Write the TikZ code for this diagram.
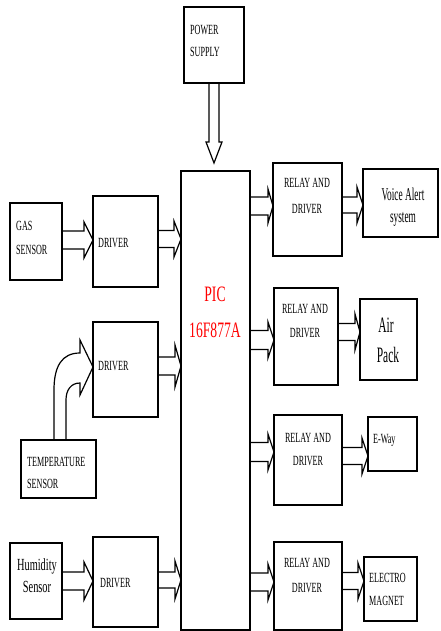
\documentclass[tikz,border=0pt]{standalone}
\usepackage{fontspec}
\setmainfont{Liberation Serif}
\newfontfamily\cnd[FakeStretch=0.58]{Liberation Serif}
\newfontfamily\cndm[FakeStretch=0.61]{Liberation Serif}
\newfontfamily\cndb[FakeStretch=0.52]{Liberation Serif}
\newfontfamily\cndp[FakeStretch=0.62]{Liberation Serif}
\usetikzlibrary{calc}
\tikzset{
  blk/.style={draw, line width=1.5pt, inner sep=0pt, outer sep=0pt, anchor=north west},
  lbl/.style={inner sep=0pt, anchor=base west, font=\cnd\fontsize{14}{16}\selectfont, text=black},
  clbl/.style={inner sep=0pt, anchor=base, font=\cnd\fontsize{14}{16}\selectfont, text=black},
  hlbl/.style={inner sep=0pt, anchor=base, font=\cndm\fontsize{17}{19}\selectfont, text=black},
  mlbl/.style={inner sep=0pt, anchor=base, font=\cndb\fontsize{18}{20}\selectfont, text=black},
  albl/.style={inner sep=0pt, anchor=base, font=\cndb\fontsize{22}{24}\selectfont, text=black},
  plbl/.style={inner sep=0pt, anchor=base, font=\cndp\fontsize{22}{24}\selectfont, text=red},
  arr/.style={draw, line width=1.2pt, line join=miter},
}
\newcommand\fatarr[6]{%
  \draw[arr] let \p1=(#1 |- 0,#3), \p2=(#2 |- 0,#3) in
    (\x1,\y1+#4pt) -- (\x2-#6pt,\y1+#4pt) -- (\x2-#6pt,\y1+#5pt) -- (\x2,\y1)
    -- (\x2-#6pt,\y1-#5pt) -- (\x2-#6pt,\y1-#4pt) -- (\x1,\y1-#4pt);}
\begin{document}
\begin{tikzpicture}[x=1pt,y=-1pt]
\useasboundingbox (0,0) rectangle (441,631);
% boxes
\node[blk, minimum width=60pt, minimum height=76pt] (pwr) at (184,7) {};
\node[blk, minimum width=69pt, minimum height=459pt] (pic) at (181,171) {};
\node[blk, minimum width=52pt, minimum height=77pt] (gas) at (10,203) {};
\node[blk, minimum width=65pt, minimum height=91pt] (drv1) at (93,196) {};
\node[blk, minimum width=65pt, minimum height=95pt] (drv2) at (93,322) {};
\node[blk, minimum width=75pt, minimum height=58pt] (temp) at (21,440) {};
\node[blk, minimum width=52pt, minimum height=76pt] (hum) at (10,543) {};
\node[blk, minimum width=65pt, minimum height=90pt] (drv3) at (93,537) {};
\node[blk, minimum width=69pt, minimum height=93pt] (rel1) at (273,163) {};
\node[blk, minimum width=75pt, minimum height=68pt] (voice) at (363,169) {};
\node[blk, minimum width=64pt, minimum height=97pt] (rel2) at (274,288) {};
\node[blk, minimum width=57pt, minimum height=81pt] (air) at (360,299) {};
\node[blk, minimum width=68pt, minimum height=90pt] (rel3) at (274,415) {};
\node[blk, minimum width=49pt, minimum height=54pt] (eway) at (368,417) {};
\node[blk, minimum width=68pt, minimum height=88pt] (rel4) at (274,542) {};
\node[blk, minimum width=53pt, minimum height=64pt] (elec) at (364,557) {};
% labels
\node[lbl] (tpwr1) at (190,35) {POWER};
\node[lbl] (tpwr2) at (190,57) {SUPPLY};
\node[lbl] (tgas1) at (16,230) {GAS};
\node[lbl] (tgas2) at (16,254) {SENSOR};
\node[lbl] (td1) at (98,247) {DRIVER};
\node[lbl] (td2) at (98,370) {DRIVER};
\node[lbl] (td3) at (100,587) {DRIVER};
\node[lbl] (tt1) at (27,466) {TEMPERATURE};
\node[lbl] (tt2) at (27,488) {SENSOR};
\node[hlbl] (th1) at (37,570) {Humidity};
\node[hlbl] (th2) at (37,592) {Sensor};
\node[clbl] (tr1a) at (307,187) {RELAY AND};
\node[clbl] (tr1b) at (307,213) {DRIVER};
\node[clbl] (tr2a) at (305,313) {RELAY AND};
\node[clbl] (tr2b) at (305,337) {DRIVER};
\node[clbl] (tr3a) at (308,442) {RELAY AND};
\node[clbl] (tr3b) at (308,465) {DRIVER};
\node[clbl] (tr4a) at (307,567) {RELAY AND};
\node[clbl] (tr4b) at (307,592) {DRIVER};
\node[mlbl] (tv1) at (403,200) {Voice Alert};
\node[mlbl] (tv2) at (403,222) {system};
\node[albl] (ta1) at (386,332) {Air};
\node[albl] (ta2) at (388,362) {Pack};
\node[lbl] (te) at (373,443) {E-Way};
\node[lbl] (tel1) at (369,582) {ELECTRO};
\node[lbl] (tel2) at (369,605) {MAGNET};
\node[plbl] (tp1) at (215,301) {PIC};
\node[plbl] (tp2) at (215,337) {16F877A};
% power arrow
\draw[arr] let \p1=(pwr.south), \p2=($(pic.north)+(0,-8)$) in
  (\x1-5pt,\y1) -- (\x1-5pt,\y2+21pt) -- (\x1-8pt,\y2+21pt) -- (\x1,\y2)
  -- (\x1+8pt,\y2+21pt) -- (\x1+5pt,\y2+21pt) -- (\x1+5pt,\y1);
% hollow arrows
\fatarr{gas.east}{drv1.west}{240}{9}{18}{9}
\fatarr{drv1.east}{pic.west}{239}{8.5}{18}{7}
\fatarr{drv2.east}{pic.west}{366}{9}{21}{6}
\fatarr{hum.east}{drv3.west}{581}{9}{19}{9}
\fatarr{drv3.east}{pic.west}{580}{8}{19}{6}
\fatarr{pic.east}{rel1.west}{206}{9}{17}{5}
\fatarr{rel1.east}{voice.west}{205}{8}{18}{6}
\fatarr{pic.east}{rel2.west}{340}{9.5}{18}{6}
\fatarr{rel2.east}{air.west}{332}{8.5}{18}{5}
\fatarr{pic.east}{rel3.west}{452}{9.5}{18}{6}
\fatarr{rel3.east}{eway.west}{456}{8.5}{18}{6}
\fatarr{pic.east}{rel4.west}{582}{9}{18}{6}
\fatarr{rel4.east}{elec.west}{581}{8.5}{18}{6}
% curved arrow temperature -> driver
\draw[arr] (54,440) -- (54,390) .. controls (54,366) and (62,353) .. (80,353)
  -- (80,340) -- (drv2.west |- 0,367) -- (80,395) -- (80,383)
  .. controls (71,383) and (66,390) .. (66,400) -- (66,440);
\end{tikzpicture}
\end{document}
